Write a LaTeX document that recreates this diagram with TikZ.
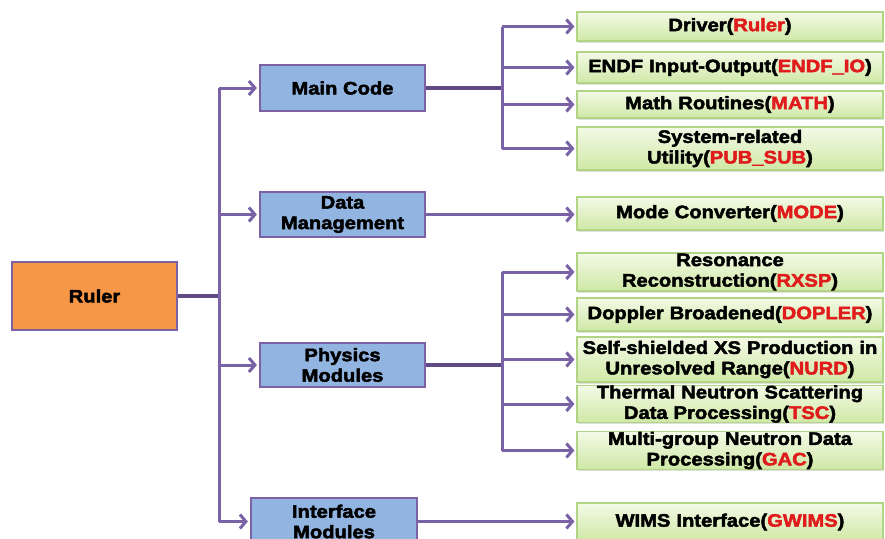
\documentclass[tikz,border=0pt]{standalone}
\usepackage{fontspec}
\setmainfont{Liberation Sans}[FakeStretch=1.12, BoldFeatures={FakeBold=2.6}]
\usetikzlibrary{arrows.meta,shadows}
\definecolor{lnpurple}{HTML}{7A62A6}
\definecolor{stubpurple}{HTML}{5F4A85}
\definecolor{bxborder}{HTML}{7D62A3}
\definecolor{bxblue}{HTML}{92B4E0}
\definecolor{bxorange}{HTML}{F79646}
\definecolor{grtop}{HTML}{F3FAE6}
\definecolor{grbot}{HTML}{CFE8A6}
\definecolor{grborder}{HTML}{B2D485}
\definecolor{txtred}{HTML}{E01B1B}
\newcommand\rd[1]{\textcolor{txtred}{#1}}
\begin{document}
\begin{tikzpicture}[x=1pt,y=-1pt,
  lbl/.style={font=\fontsize{18}{20.5}\selectfont\bfseries, align=center},
  bluebox/.style={lbl, draw=bxborder, line width=2.2pt, fill=bxblue, minimum width=165pt, inner sep=0pt},
  rootbox/.style={lbl, draw=bxborder, line width=2.2pt, fill=bxorange, minimum width=165pt, minimum height=68pt, inner sep=0pt},
  leafbox/.style={lbl, draw=grborder, line width=1.2pt, top color=grtop, bottom color=grbot, minimum width=306pt, text width=304pt, inner sep=0pt, drop shadow={opacity=0.25, shadow xshift=1.2pt, shadow yshift=-1.5pt}},
  conn/.style={draw=lnpurple, line width=3pt},
  stub/.style={draw=stubpurple, line width=3.6pt},
  arr/.style={draw=lnpurple, line width=3pt, -{Straight Barb[length=6pt,width=14pt]}, shorten >=2pt}
]
\clip (0,0) rectangle (885,538);
\fill[white] (0,0) rectangle (885,538);

% root
\node[rootbox] (ruler) at (94.5,296) {Ruler};

% second level
\node[bluebox, minimum height=46pt] (main) at (342.5,88) {Main Code};
\node[bluebox, minimum height=45pt] (data) at (342.5,214.5) {Data\\Management};
\node[bluebox, minimum height=44pt] (phys) at (342.5,365) {Physics\\Modules};
\node[bluebox, minimum width=166pt, minimum height=47pt] (intf) at (334,521.5) {Interface\\Modules};

% leaves
\node[leafbox, minimum height=29pt] (g1) at (730,26.5) {Driver(\rd{Ruler})};
\node[leafbox, minimum height=31pt] (g2) at (730,67.5) {ENDF Input-Output(\rd{ENDF\_IO})};
\node[leafbox, minimum height=27pt] (g3) at (730,104.5) {Math Routines(\rd{MATH})};
\node[leafbox, minimum height=43pt] (g4) at (730,148.5) {System-related\\Utility(\rd{PUB\_SUB})};
\node[leafbox, minimum height=33pt] (g5) at (730,213.5) {Mode Converter(\rd{MODE})};
\node[leafbox, minimum height=38pt] (g6) at (730,272) {Resonance\\Reconstruction(\rd{RXSP})};
\node[leafbox, minimum height=33pt] (g7) at (730,314.5) {Doppler Broadened(\rd{DOPLER})};
\node[leafbox, minimum height=45pt] (g8) at (730,359.5) {Self-shielded XS Production in\\Unresolved Range(\rd{NURD})};
\node[leafbox, minimum height=36pt] (g9) at (730,404) {Thermal Neutron Scattering\\Data Processing(\rd{TSC})};
\node[leafbox, minimum height=37pt] (g10) at (730,450.5) {Multi-group Neutron Data\\Processing(\rd{GAC})};
\node[leafbox, minimum height=38pt] (g11) at (730,522) {WIMS Interface(\rd{GWIMS})};

% trunk
\coordinate (tx) at (219,0);
\coordinate (bx) at (502,0);
\draw[stub] (ruler.east) -- (ruler.east -| tx);
\draw[conn] (main.west -| tx) -- (intf.west -| tx);
\draw[arr] (main.west -| tx) -- (main.west);
\draw[arr] (data.west -| tx) -- (data.west);
\draw[arr] (phys.west -| tx) -- (phys.west);
\draw[arr] (intf.west -| tx) -- (intf.west);

% main code branch
\draw[stub] (main.east) -- (main.east -| bx);
\draw[conn] (g1.west -| bx) -- (g4.west -| bx);
\foreach \g in {g1,g2,g3,g4} \draw[arr] (\g.west -| bx) -- (\g.west);

% data management
\draw[arr] (data.east) -- (data.east -| g5.west);

% physics branch
\draw[stub] (phys.east) -- (phys.east -| bx);
\draw[conn] (g6.west -| bx) -- (g10.west -| bx);
\foreach \g in {g6,g7,g8,g9,g10} \draw[arr] (\g.west -| bx) -- (\g.west);

% interface
\draw[arr] (intf.east) -- (intf.east -| g11.west);
\end{tikzpicture}
\end{document}
